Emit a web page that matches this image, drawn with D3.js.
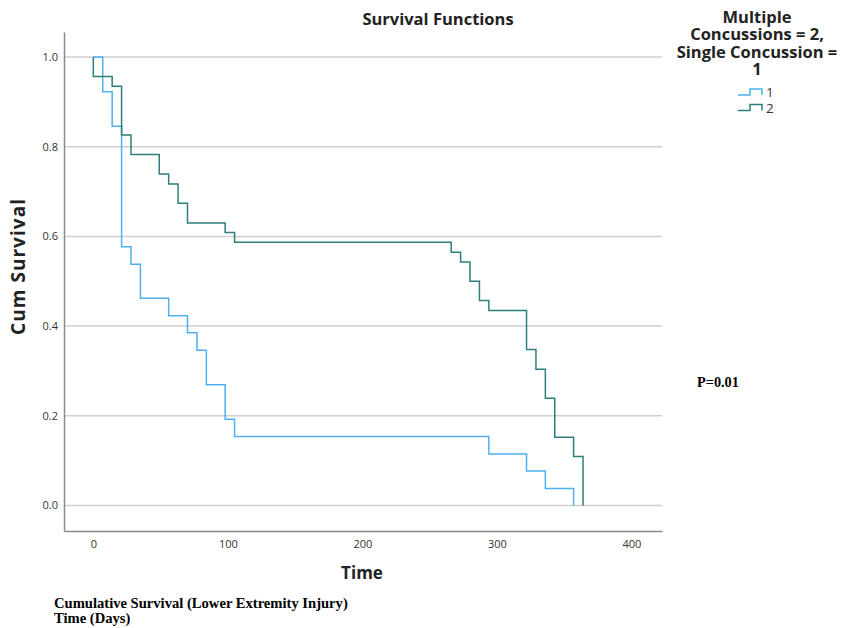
<!DOCTYPE html>
<html>
<head>
<meta charset="utf-8">
<script src="https://cdn.jsdelivr.net/npm/d3@7"></script>
<style>
  body { margin: 0; background: #fff; }
  svg text { font-family: "Open Sans", "DejaVu Sans", sans-serif; }
</style>
</head>
<body>
<div id="chart"></div>
<script>
// survival steps, group 1 (single concussion)
var times1 = [0, 7, 14, 21, 28, 35, 56, 70, 77, 84, 98, 105, 294, 322, 336, 357];
var surv1 = [1, 0.923, 0.846, 0.577, 0.538, 0.462, 0.423, 0.385, 0.346, 0.269, 0.192, 0.154, 0.115, 0.077, 0.038, 0];
// group 2 (multiple concussions)
var times2 = [0, 0, 14, 21, 28, 49, 56, 63, 70, 98, 105, 266, 273, 280, 287, 294, 322, 329, 336, 343, 357, 364];
var surv2 = [1, 0.957, 0.935, 0.826, 0.783, 0.739, 0.717, 0.674, 0.630, 0.609, 0.587, 0.565, 0.543, 0.500, 0.457, 0.435, 0.348, 0.304, 0.239, 0.152, 0.109, 0];

var groups = ["1", "2"];
var colors = ["#4eb0f0", "#2e7f7b"];
var xTicks = [0, 100, 200, 300, 400];
var yTicks = [0, 0.2, 0.4, 0.6, 0.8, 1.0];

var W = 854, H = 628;
var margin = { top: 32, right: 192, bottom: 97, left: 64 };
var width = W - margin.left - margin.right,
    height = H - margin.top - margin.bottom;

var svg = d3.select("#chart")
      .append("svg")
      .attr("width", W)
      .attr("height", H);

var g = svg.append("g")
      .attr("transform", "translate(" + margin.left + "," + margin.top + ")");

var xScale = d3.scaleLinear()
      .domain([-21.8, 422.7])
      .range([0, width]);
var yScale = d3.scaleLinear()
      .domain([-0.057, 1.056])
      .range([height, 0]);

// gridlines
g.selectAll(".grid")
      .data(yTicks)
      .enter()
      .append("line")
      .attr("x1", 0)
      .attr("x2", width)
      .attr("y1", function (d) { return yScale(d); })
      .attr("y2", function (d) { return yScale(d); })
      .attr("stroke", "#cfcfcf")
      .attr("stroke-width", 1.5);

// axes
var yAxis = g.append("g")
      .call(d3.axisLeft(yScale).tickValues(yTicks).tickFormat(d3.format(".1f")).tickSize(0).tickPadding(6));
var xAxis = g.append("g")
      .attr("transform", "translate(0," + height + ")")
      .call(d3.axisBottom(xScale).tickValues(xTicks).tickSize(0).tickPadding(9));
[xAxis, yAxis].forEach(function (a) {
      a.select(".domain").attr("stroke", "#8a8a8a").attr("stroke-width", 1.5);
      a.selectAll("text").attr("fill", "#333").style("font-size", "11px");
});

// step curves
var line = d3.line()
      .x(function (d) { return xScale(d[0]); })
      .y(function (d) { return yScale(d[1]); })
      .curve(d3.curveStepAfter);

var series = [d3.zip(times1, surv1), d3.zip(times2, surv2)];
g.selectAll(".km")
      .data(series)
      .enter()
      .append("path")
      .attr("d", line)
      .attr("fill", "none")
      .attr("stroke", function (d, i) { return colors[i]; })
      .attr("stroke-width", 1.5);

// titles
svg.append("text")
      .attr("x", 438).attr("y", 25)
      .attr("text-anchor", "middle")
      .style("font-size", "16.5px").style("font-weight", "bold")
      .attr("fill", "#222")
      .text("Survival Functions");

svg.append("text")
      .attr("transform", "translate(25,267)rotate(-90)")
      .attr("text-anchor", "middle")
      .attr("textLength", 136)
      .style("font-size", "19px").style("font-weight", "bold")
      .attr("fill", "#222")
      .text("Cum Survival");

svg.append("text")
      .attr("x", 362).attr("y", 579)
      .attr("text-anchor", "middle")
      .style("font-size", "17px").style("font-weight", "bold")
      .attr("fill", "#222")
      .text("Time");

// legend
var legendTitle = ["Multiple", "Concussions = 2,", "Single Concussion =", "1"];
svg.append("g").selectAll("text")
      .data(legendTitle)
      .enter()
      .append("text")
      .attr("x", 757)
      .attr("y", function (d, i) { return 23 + i * 17.3; })
      .attr("text-anchor", "middle")
      .style("font-size", "16.5px").style("font-weight", "bold")
      .attr("fill", "#222")
      .text(function (d) { return d; });

var leg = svg.append("g").selectAll("g")
      .data(groups)
      .enter()
      .append("g")
      .attr("transform", function (d, i) { return "translate(738," + (92 + i * 15.5) + ")"; });
leg.append("path")
      .attr("d", "M0,3H12V-3H24V3")
      .attr("fill", "none")
      .attr("stroke", function (d, i) { return colors[i]; })
      .attr("stroke-width", 1.5);
leg.append("text")
      .attr("x", 28).attr("y", 5)
      .style("font-size", "13.5px")
      .attr("fill", "#333")
      .text(function (d) { return d; });

// notes
svg.append("text")
      .attr("x", 697).attr("y", 387)
      .style("font-family", "'Liberation Serif', 'DejaVu Serif', serif")
      .style("font-size", "14.3px").style("font-weight", "bold")
      .text("P=0.01");

var notes = ["Cumulative Survival (Lower Extremity Injury)", "Time (Days)"];
svg.append("g").selectAll("text")
      .data(notes)
      .enter()
      .append("text")
      .attr("x", 54)
      .attr("y", function (d, i) { return 608 + i * 15; })
      .style("font-family", "'Liberation Serif', 'DejaVu Serif', serif")
      .style("font-size", "14.6px").style("font-weight", "bold")
      .text(function (d) { return d; });
</script>
</body>
</html>
